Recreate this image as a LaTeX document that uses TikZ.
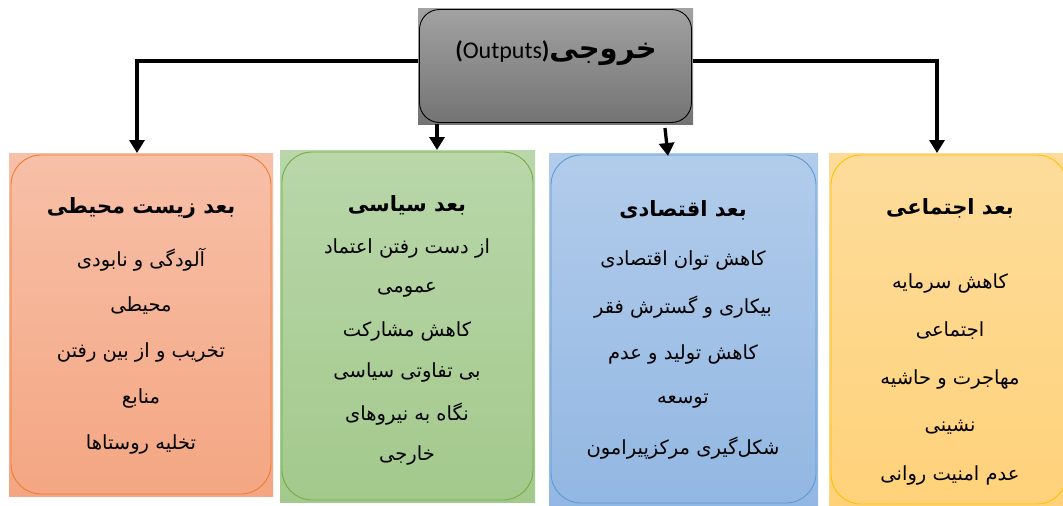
\documentclass[tikz,border=0pt]{standalone}
\usepackage{fontspec}
\newfontfamily\arabicfont[Script=Arabic]{DejaVu Sans}
\newfontfamily\latinfont{Carlito}
\TeXXeTstate=1
\usetikzlibrary{arrows.meta}
\newcommand{\rl}[1]{\beginR #1\endR}
\definecolor{c1t}{RGB}{247,192,168}\definecolor{c1b}{RGB}{244,166,130}\definecolor{c1d}{RGB}{237,125,49}
\definecolor{c2t}{RGB}{185,215,170}\definecolor{c2b}{RGB}{163,201,140}\definecolor{c2d}{RGB}{112,173,71}
\definecolor{c3t}{RGB}{178,204,235}\definecolor{c3b}{RGB}{146,183,226}\definecolor{c3d}{RGB}{91,155,213}
\definecolor{c4t}{RGB}{253,220,155}\definecolor{c4b}{RGB}{255,210,122}\definecolor{c4d}{RGB}{255,192,0}
\definecolor{c0t}{RGB}{162,162,162}\definecolor{c0b}{RGB}{115,115,115}
\begin{document}
\begin{tikzpicture}[x=1pt,y=-1pt,
  panel/.style={anchor=north west, inner sep=0pt, outer sep=0pt},
  ttl/.style={font=\arabicfont\bfseries\fontsize{21}{24}\selectfont, inner sep=1pt},
  txt/.style={font=\arabicfont\fontsize{19.5}{22}\selectfont, inner sep=1pt},
  arr/.style={line width=3.3pt, -{Triangle[width=15pt,length=13pt]}},
  ln/.style={line width=3.3pt}]
\useasboundingbox (0,0) rectangle (1063,506);
% top box
\node[panel, top color=c0t, bottom color=c0b, minimum width=275pt, minimum height=116pt] (out) at (418,8) {};
\draw[line width=0.9pt, rounded corners=20pt] ([shift={(1.5,1.5)}]out.north west) rectangle ([shift={(-1.5,-1.5)}]out.south east);
\node (ttop) at (556,53) {\arabicfont\bfseries\fontsize{29}{32}\selectfont\beginR خروجی\beginL{\latinfont\bfseries\fontsize{24}{26}\selectfont(}{\latinfont\mdseries\fontsize{24}{26}\selectfont Outputs}{\latinfont\bfseries\fontsize{24}{26}\selectfont)}\endL\endR};
% boxes
\node[panel, top color=c1t, bottom color=c1b, minimum width=264pt, minimum height=343pt] (b1) at (9,153) {};
\node[panel, top color=c2t, bottom color=c2b, minimum width=255pt, minimum height=352pt] (b2) at (280,150) {};
\node[panel, top color=c3t, bottom color=c3b, minimum width=269pt, minimum height=352pt] (b3) at (549,153) {};
\node[panel, top color=c4t, bottom color=c4b, minimum width=240pt, minimum height=353pt] (b4) at (829,153) {};
\draw[c1d, line width=0.9pt, rounded corners=30pt] ([shift={(2,2)}]b1.north west) rectangle ([shift={(-2,-2)}]b1.south east);
\draw[c2d, line width=0.9pt, rounded corners=30pt] ([shift={(2,2)}]b2.north west) rectangle ([shift={(-2,-2)}]b2.south east);
\draw[c3d, line width=0.9pt, rounded corners=30pt] ([shift={(2,2)}]b3.north west) rectangle ([shift={(-2,-2)}]b3.south east);
\draw[c4d, line width=0.9pt, rounded corners=30pt] ([shift={(2,2)}]b4.north west) rectangle ([shift={(-2,-2)}]b4.south east);
% connectors
\coordinate (lcorner) at (137,61);
\coordinate (rcorner) at (937,61);
\draw[arr] (out.west |- lcorner) -- (lcorner) -- (lcorner |- b1.north);
\draw[arr] (out.east |- rcorner) -- (rcorner) -- (rcorner |- b4.north);
\coordinate (m1) at (437,124);
\coordinate (m2) at (665,128);
\coordinate (m2e) at (668,156);
\draw[arr] (m1) -- (m1 |- b2.north);
\draw[arr] (m2) -- (m2e);
% texts box1
\node[ttl] (t1) at (141,208) {\rl{بعد زیست محیطی}};
\foreach \t [count=\i] in {آلودگی و نابودی, محیطی, تخریب و از بین رفتن, منابع, تخلیه روستاها}
  \node[txt] (b1l\i) at (141,{260+46*(\i-1)}) {\rl{\t}};
% box2
\node[ttl] (t2) at (407,205) {\rl{بعد سیاسی}};
\foreach \t [count=\i] in {از دست رفتن اعتماد, عمومی, کاهش مشارکت, بی تفاوتی سیاسی, نگاه به نیروهای, خارجی}
  \node[txt] (b2l\i) at (407,{248+41.5*(\i-1)}) {\rl{\t}};
% box3
\node[ttl] (t3) at (683,210) {\rl{بعد اقتصادی}};
\foreach \t [count=\i] in {کاهش توان اقتصادی, بیکاری و گسترش فقر, کاهش تولید و عدم, توسعه, شکل‌گیری مرکزپیرامون}
  \node[txt] (b3l\i) at (683,{260+47*(\i-1)}) {\rl{\t}};
% box4
\node[ttl] (t4) at (950,208) {\rl{بعد اجتماعی}};
\foreach \t [count=\i] in {کاهش سرمایه, اجتماعی, مهاجرت و حاشیه, نشینی, عدم امنیت روانی}
  \node[txt] (b4l\i) at (950,{283+48*(\i-1)}) {\rl{\t}};
\end{tikzpicture}
\end{document}
